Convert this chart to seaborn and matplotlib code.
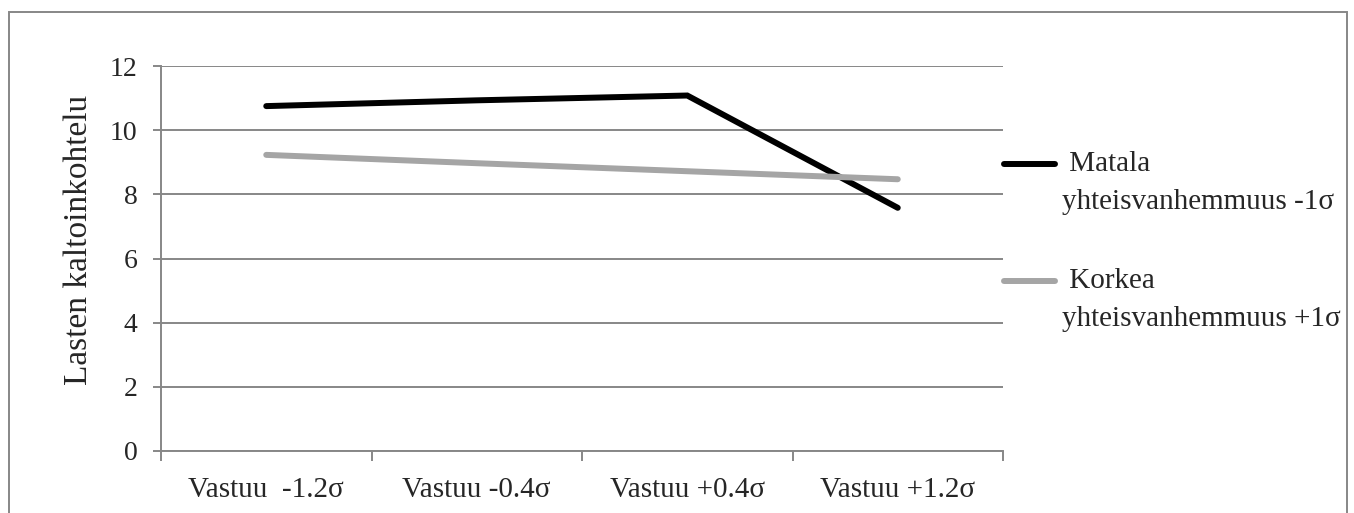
import matplotlib
matplotlib.use("Agg")
from matplotlib import pyplot as plt
from matplotlib.lines import Line2D
from matplotlib.patches import Rectangle
import pandas as pd
import seaborn as sns

# Data
categories = ["Vastuu  -1.2σ", "Vastuu -0.4σ", "Vastuu +0.4σ", "Vastuu +1.2σ"]
matala = [10.75, 10.93, 11.08, 7.58]
korkea = [9.23, 8.97, 8.72, 8.47]
series_names = ["Matala yhteisvanhemmuus -1σ", "Korkea yhteisvanhemmuus +1σ"]
legend_first = [" Matala", " Korkea"]
legend_second = ["yhteisvanhemmuus -1σ", "yhteisvanhemmuus +1σ"]
colors = ["#000000", "#A5A5A5"]
y_ticks = [0, 2, 4, 6, 8, 10, 12]

df = pd.DataFrame({
    "Vastuu": categories * 2,
    "Arvo": matala + korkea,
    "Sarja": [series_names[0]] * 4 + [series_names[1]] * 4,
})

sns.set_style("white")
plt.rcParams["font.family"] = ["Liberation Serif", "DejaVu Serif"]
grid_col = "#878787"

fig = plt.figure(figsize=(13.54, 5.13), dpi=100)
ax = fig.add_axes([161 / 1354, 1 - 451 / 513, 842 / 1354, 385 / 513])

sns.lineplot(data=df, x="Vastuu", y="Arvo", hue="Sarja", palette=colors,
             sort=False, linewidth=4.3, legend=False, ax=ax,
             solid_capstyle="round", solid_joinstyle="miter")

ax.set_xlim(-0.5, 3.5)
ax.set_ylim(0, 12)
ax.set_yticks(y_ticks)
ax.set_xticks(range(len(categories)))
ax.set_xticklabels(categories)
ax.set_xticks([i - 0.5 for i in range(len(categories) + 1)], minor=True)

ax.yaxis.grid(True, color=grid_col, linewidth=1.4)
ax.set_axisbelow(True)
for s in ["top", "right"]:
    ax.spines[s].set_visible(False)
ax.spines["left"].set_color(grid_col)
ax.spines["bottom"].set_color(grid_col)
ax.spines["left"].set_linewidth(1.4)
ax.spines["bottom"].set_linewidth(1.4)

ax.tick_params(axis="y", left=True, length=6, width=1.4, color=grid_col,
               labelsize=20, pad=11)
ax.tick_params(axis="x", which="major", bottom=False, length=0, labelsize=21, pad=19)
ax.tick_params(axis="x", which="minor", bottom=True, length=7, width=1.4,
               color=grid_col, direction="out")

ax.set_xlabel("")
ax.set_ylabel("Lasten kaltoinkohtelu", fontsize=24)
ax.yaxis.set_label_coords(-0.080, 0.548)

# Legend drawn to the right of the plot
legend_y = [164, 281]
for i in range(2):
    y = 1 - legend_y[i] / 513
    fig.add_artist(Line2D([1004 / 1354, 1055 / 1354], [y, y], color=colors[i],
                          linewidth=4.3, solid_capstyle="round",
                          transform=fig.transFigure))
    fig.text(1062 / 1354, y, legend_first[i], fontsize=21, va="center", ha="left")
    fig.text(1062 / 1354, y - 38 / 513, legend_second[i], fontsize=21,
             va="center", ha="left")

# Outer chart border
fig.add_artist(Rectangle((9 / 1354, -0.01), 1338 / 1354, 1 - 12 / 513 + 0.01,
                         transform=fig.transFigure, fill=False,
                         edgecolor=grid_col, linewidth=1.4))

fig.savefig("out.png", dpi=100)
